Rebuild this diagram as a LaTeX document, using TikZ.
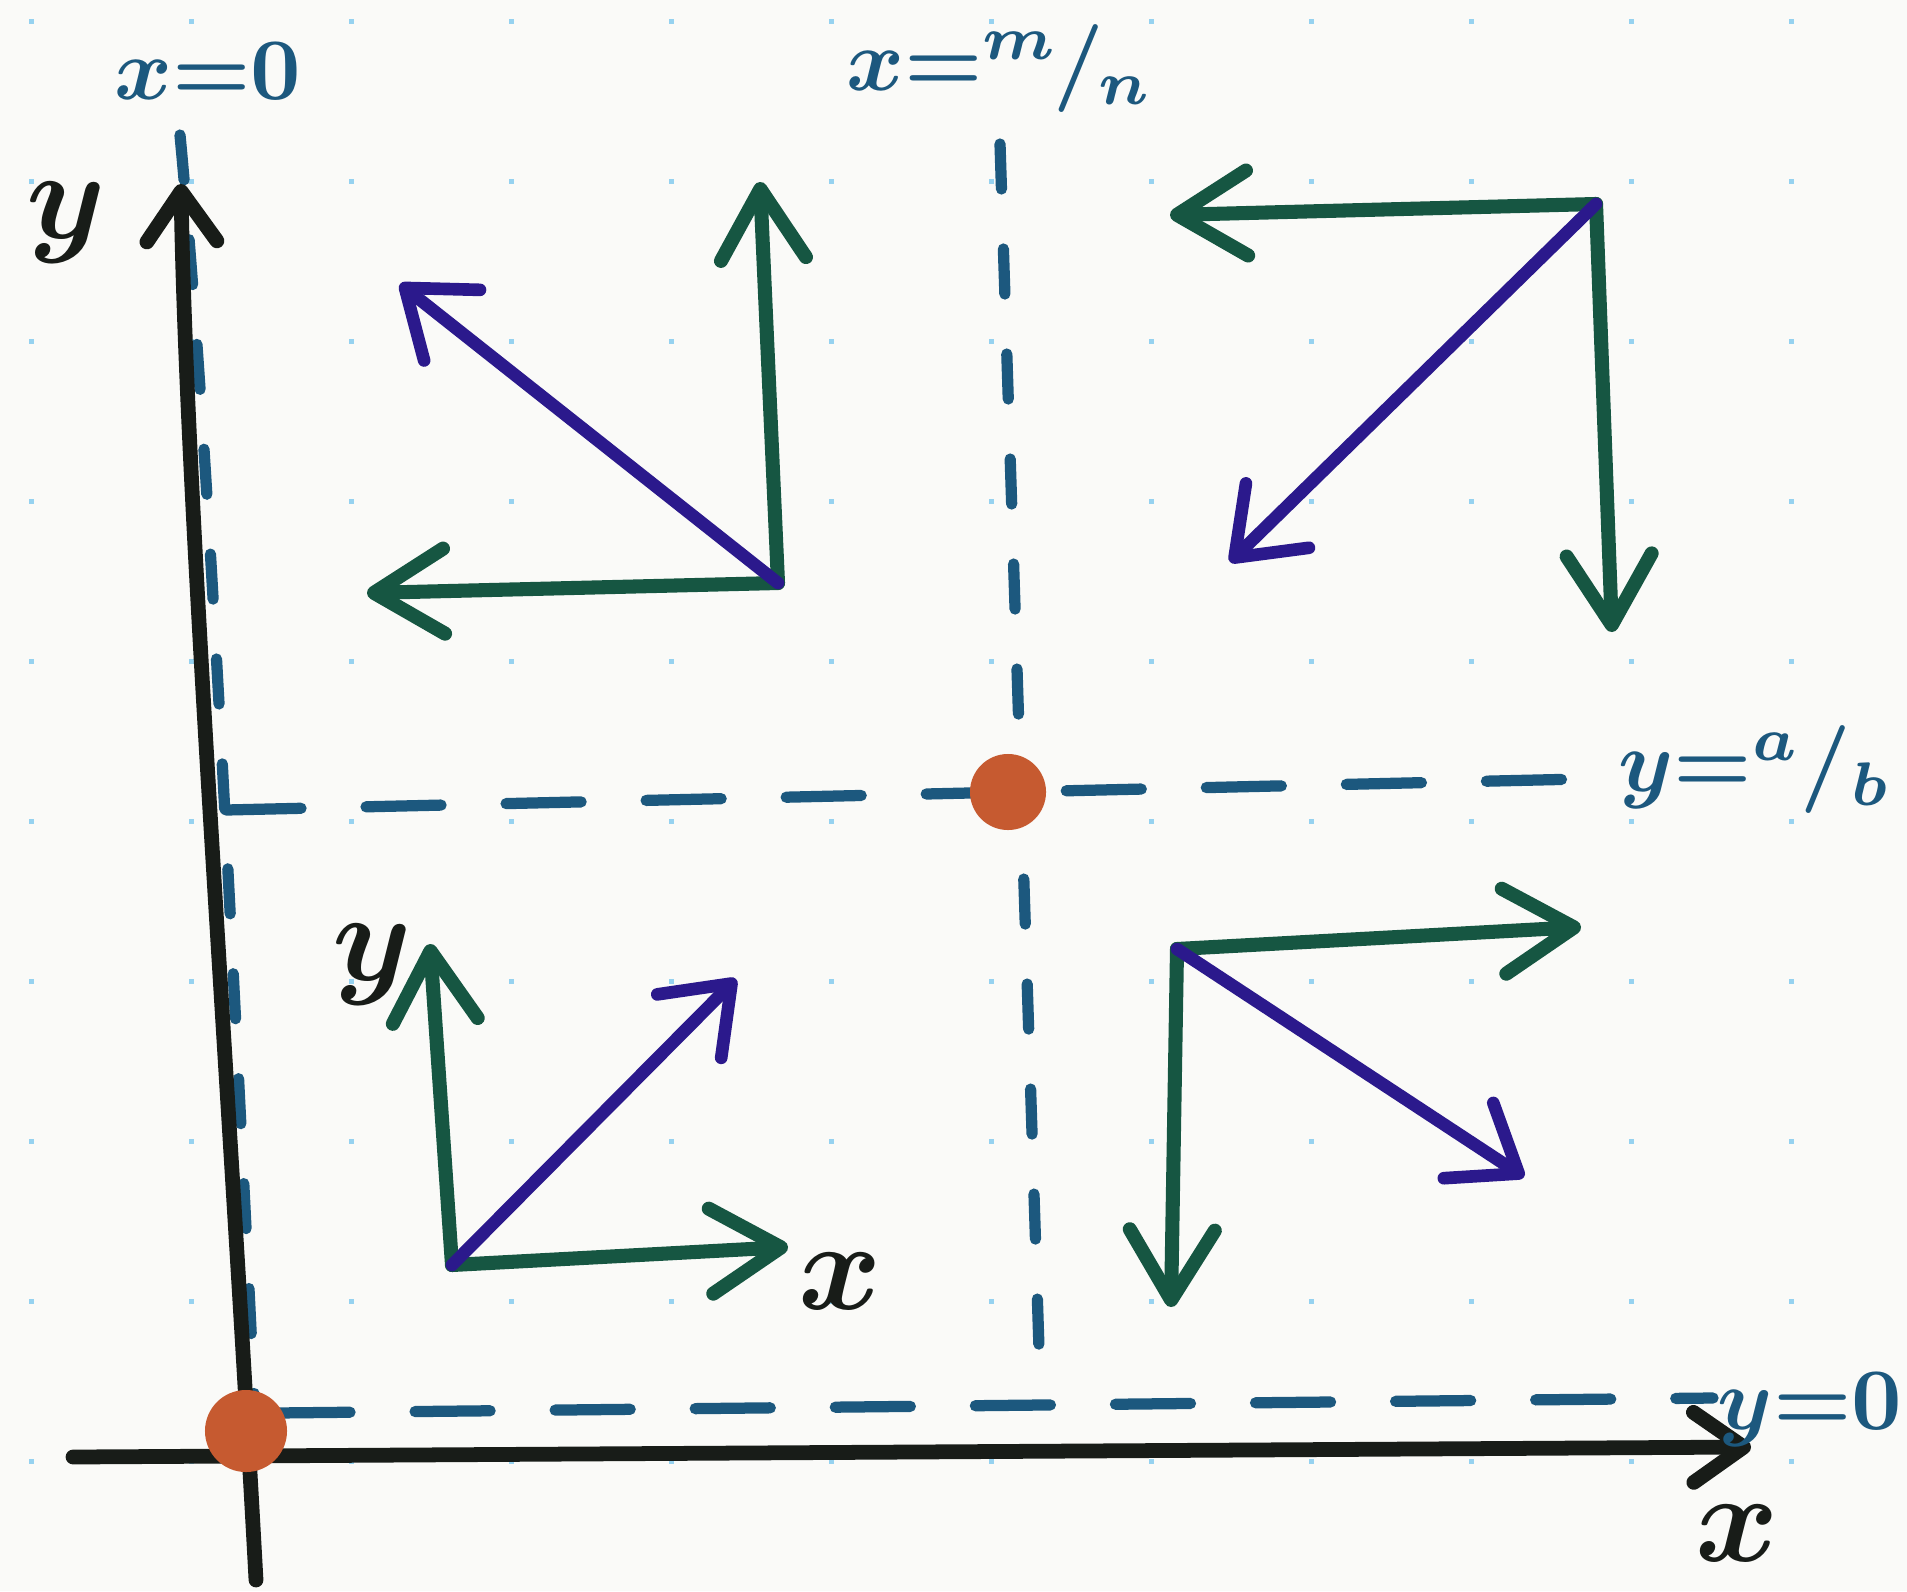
\documentclass[tikz,border=0pt]{standalone}
\usepackage{amsmath}
\usetikzlibrary{positioning,calc,arrows.meta}
\definecolor{InkGreen}{RGB}{22,86,66}
\definecolor{InkViolet}{RGB}{43,25,140}
\definecolor{InkBlue}{RGB}{28,88,126}
\definecolor{InkOrange}{RGB}{198,90,48}
\definecolor{InkBlack}{RGB}{24,28,24}
\definecolor{DotBlue}{RGB}{150,210,240}
\definecolor{PaperWhite}{RGB}{250,250,248}

\tikzset{
  greenvec/.style={InkGreen,line width=4pt,line cap=round,-{Straight Barb[length=7mm,width=8.5mm,round]}},
  violetvec/.style={InkViolet,line width=3.6pt,line cap=round,-{Straight Barb[length=6mm,width=9mm,round]}},
  axisline/.style={InkBlack,line width=4.2pt,line cap=round,line join=round,-{Straight Barb[length=5mm,width=7mm,round]}},
  guide/.style={InkBlue,line width=3.2pt,line cap=round,dash pattern=on 7.5mm off 6.5mm},
  vguide/.style={guide,dash pattern=on 4.5mm off 6mm},
  bluelbl/.style={InkBlue,scale=2.5,font=\boldmath},
  blacklbl/.style={InkBlack,scale=3.6,font=\boldmath},
  spot/.style={circle,fill=InkOrange,inner sep=0pt,minimum size=8.2mm}
}

\begin{document}
\begin{tikzpicture}[x=0.01cm,y=-0.01cm]
    \useasboundingbox (0,0) rectangle (1907,1591);
    \fill[PaperWhite] (0,0) rectangle (1907,1591);
    % dotted paper
    \foreach \i in {0,...,11}
      \foreach \j in {0,...,9}
        \fill[DotBlue] ({29.2+160*\i},{19.2+160*\j}) rectangle +(5,5);

    % guide lines
    \coordinate (gxzerotop) at (180,135);
    \coordinate (gxzerobot) at (255,1411);
    \coordinate (gxmntop) at (1000,144);
    \coordinate (gxmnbot) at (1040,1380);
    \coordinate (gyableft) at (226,810);
    \coordinate (gyabright) at (1625,778);
    \coordinate (gyzeroleft) at (275,1413);
    \coordinate (gyzeroright) at (1713,1398);
    \draw[vguide] (gxzerotop) .. controls (205,400) and (225,800) .. (gxzerobot);
    \draw[vguide] (gxmntop) -- (gxmnbot);
    \draw[guide] (gyableft) -- (gyabright);
    \draw[guide] (gyzeroleft) -- (gyzeroright);

    % axes
    \coordinate (yfoot) at (256,1580);
    \coordinate (ytop) at (181,184);
    \coordinate (xfoot) at (73,1457);
    \coordinate (xtip) at (1751,1447);
    \draw[axisline] (yfoot) .. controls (230,1100) and (186,500) .. (ytop);
    \draw[axisline] (xfoot) -- (xtip);

    % top left
    \coordinate (tlo) at (778,583);
    \coordinate (tlup) at (760,182);
    \coordinate (tldiag) at (400,284);
    \coordinate (tlleft) at (367,593);
    \draw[greenvec] (tlo) -- (tlup);
    \draw[greenvec] (tlo) -- (tlleft);
    \draw[violetvec] (tlo) -- (tldiag);

    % top right
    \coordinate (tro) at (1596,204);
    \coordinate (trleft) at (1170,215);
    \coordinate (trdiag) at (1230,562);
    \coordinate (trdown) at (1612,632);
    \draw[greenvec] (tro) -- (trleft);
    \draw[greenvec] (tro) -- (trdown);
    \draw[violetvec] (tro) -- (trdiag);

    % bottom left
    \coordinate (blo) at (452,1265);
    \coordinate (blup) at (430,944);
    \coordinate (bldiag) at (736,979);
    \coordinate (blright) at (788,1247);
    \draw[greenvec] (blo) -- (blup);
    \draw[greenvec] (blo) -- (blright);
    \draw[violetvec] (blo) -- (bldiag);

    % bottom right
    \coordinate (bro) at (1177,949);
    \coordinate (brright) at (1581,927);
    \coordinate (brdiag) at (1524,1177);
    \coordinate (brdown) at (1171,1307);
    \draw[greenvec] (bro) -- (brright);
    \draw[greenvec] (bro) -- (brdown);
    \draw[violetvec] (bro) -- (brdiag);

    % labels
    \node[bluelbl] (lblxzero) at (208,71) {$x{=}0$};
    \node[bluelbl] (lblxmn) at (1000,69) {$x{=}{}^{m}\mkern-1mu/\mkern-1mu_{n}$};
    \node[bluelbl] (lblyab) at (1755,770) {$y{=}{}^{a}/_{b}$};
    \node[bluelbl] (lblyzero) at (1810,1410) {$y{=}0$};
    \node[blacklbl] (lblyaxis) at (66,223) {$y$};
    \node[blacklbl] (lblxaxis) at (1737,1533) {$x$};
    \node[blacklbl] (lblyloc) at (372,965) {$y$};
    \node[blacklbl] (lblxloc) at (840,1281) {$x$};

    % crossings
    \node[spot] (orig) at (246,1431) {};
    \node[spot,minimum size=7.6mm] (cross) at (1008,792) {};
\end{tikzpicture}
\end{document}
